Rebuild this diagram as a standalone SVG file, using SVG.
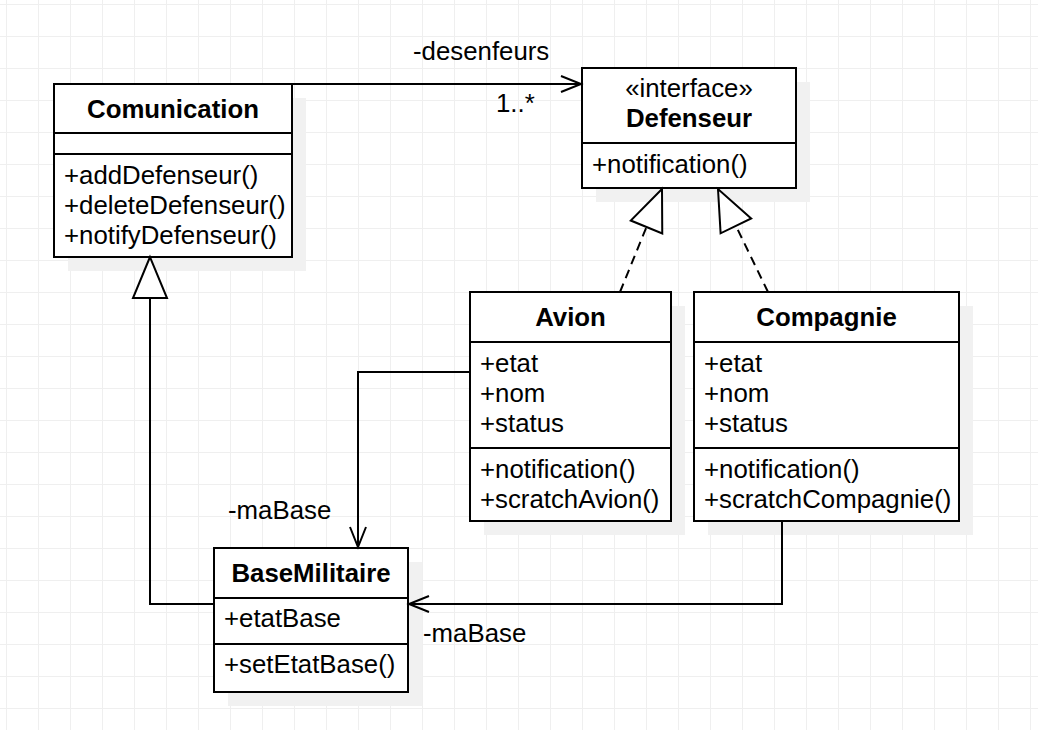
<svg xmlns="http://www.w3.org/2000/svg" width="1038" height="730" viewBox="0 0 1038 730">
<style>
text{font-family:"Liberation Sans",Arial,sans-serif;font-size:25.8px;fill:#000}
.b{font-weight:bold}
.c{text-anchor:middle}
.box{fill:#fff;stroke:#000;stroke-width:2}
.sep{stroke:#000;stroke-width:2;fill:none}
.sh{fill:#f1f1f1}
.ln{fill:none;stroke:#000;stroke-width:2}
.dash{stroke-dasharray:9 6}
</style>
<defs>
<pattern id="grid" x="6" y="4" width="32" height="32" patternUnits="userSpaceOnUse">
<path d="M0.5 0V32M0 0.5H32" stroke="#efefef" stroke-width="1" fill="none"/>
</pattern>
<marker id="open" markerUnits="userSpaceOnUse" markerWidth="30" markerHeight="30" viewBox="-25 -15 30 30" refX="0" refY="0" orient="auto" overflow="visible">
<path d="M-20 -8L0 0L-20 8" fill="none" stroke="#000" stroke-width="2"/>
</marker>
<marker id="tri" markerUnits="userSpaceOnUse" markerWidth="50" markerHeight="40" viewBox="-45 -20 50 40" refX="0" refY="0" orient="auto" overflow="visible">
<path d="M0 0L-41 -17L-41 17Z" fill="#fff" stroke="#000" stroke-width="2" stroke-linejoin="miter"/>
</marker>
</defs>
<rect width="1038" height="730" fill="#fff"/>
<rect width="1038" height="730" fill="url(#grid)"/>

<g id="Comunication">
<rect class="sh" x="68" y="98" width="238" height="173"/>
<rect class="box" x="54" y="84" width="238" height="173"/>
<path class="sep" d="M54 133H292M54 154H292"/>
<text class="b c" x="173" y="118">Comunication</text>
<text x="64" y="184">+addDefenseur()</text>
<text x="64" y="214">+deleteDefenseur()</text>
<text x="64" y="244">+notifyDefenseur()</text>
</g>

<g id="Defenseur">
<rect class="sh" x="596" y="82" width="214" height="120"/>
<rect class="box" x="582" y="68" width="214" height="120"/>
<path class="sep" d="M582 143H796"/>
<text class="c" x="689" y="97">«interface»</text>
<text class="b c" x="689" y="127">Defenseur</text>
<text x="592" y="173">+notification()</text>
</g>

<g id="Avion">
<rect class="sh" x="484" y="306" width="201" height="229"/>
<rect class="box" x="470" y="292" width="201" height="229"/>
<path class="sep" d="M470 342H671M470 448H671"/>
<text class="b c" x="570.5" y="326">Avion</text>
<text x="480" y="372">+etat</text>
<text x="480" y="402">+nom</text>
<text x="480" y="432">+status</text>
<text x="480" y="478">+notification()</text>
<text x="480" y="508">+scratchAvion()</text>
</g>

<g id="Compagnie">
<rect class="sh" x="708" y="306" width="265" height="229"/>
<rect class="box" x="694" y="292" width="265" height="229"/>
<path class="sep" d="M694 342H959M694 448H959"/>
<text class="b c" x="826.5" y="326">Compagnie</text>
<text x="704" y="372">+etat</text>
<text x="704" y="402">+nom</text>
<text x="704" y="432">+status</text>
<text x="704" y="478">+notification()</text>
<text x="704" y="508">+scratchCompagnie()</text>
</g>

<g id="BaseMilitaire">
<rect class="sh" x="228" y="562" width="194" height="144"/>
<rect class="box" x="214" y="548" width="194" height="144"/>
<path class="sep" d="M214 598H408M214 644H408"/>
<text class="b c" x="311" y="582">BaseMilitaire</text>
<text x="224" y="627">+etatBase</text>
<text x="224" y="673">+setEtatBase()</text>
</g>

<g id="connectors">
<path class="ln" d="M292 84H581" marker-end="url(#open)"/>
<path class="ln dash" d="M620 292L662 189" marker-end="url(#tri)"/>
<path class="ln dash" d="M768 292L718 189" marker-end="url(#tri)"/>
<path class="ln" d="M214 604H150V257" marker-end="url(#tri)"/>
<path class="ln" d="M470 372H358V547" marker-end="url(#open)"/>
<path class="ln" d="M782 521V604H409" marker-end="url(#open)"/>
<text x="413" y="60">-desenfeurs</text>
<text x="496" y="112">1..*</text>
<text x="228" y="519">-maBase</text>
<text x="423" y="642">-maBase</text>
</g>
</svg>
